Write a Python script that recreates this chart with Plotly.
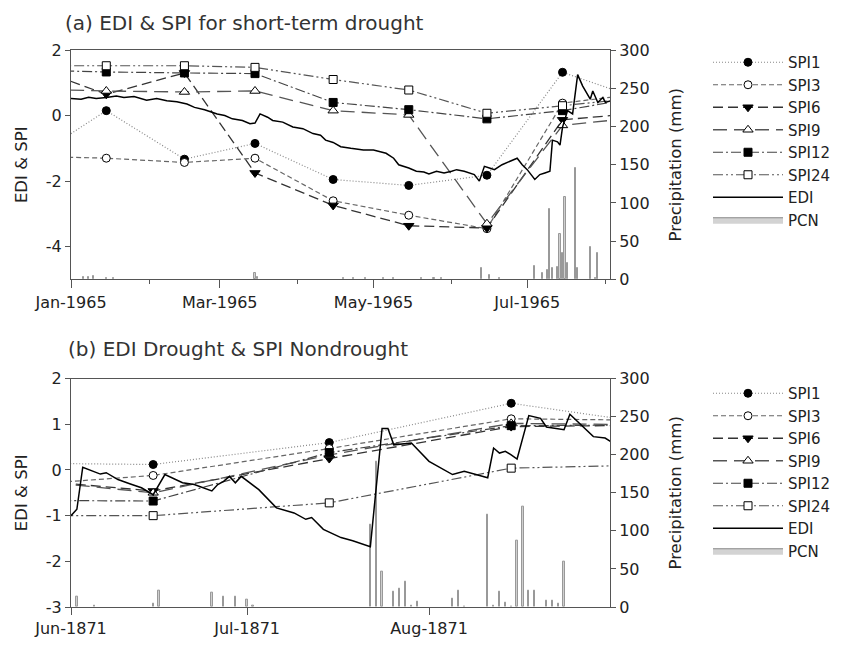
import pandas as pd
import plotly.graph_objects as go

# ---------------- Panel (a) data ----------------
spi_dates_a = ["1964-12-15", "1965-01-15", "1965-02-15", "1965-03-15", "1965-04-15",
               "1965-05-15", "1965-06-15", "1965-07-15", "1965-08-15"]
spi1_a = [-1.40, 0.15, -1.33, -0.85, -1.95, -2.13, -1.82, 1.32, 0.50]
spi3_a = [-1.24, -1.30, -1.43, -1.30, -2.60, -3.04, -3.45, 0.38, 0.67]
spi6_a = [1.52, 0.65, 1.30, -1.75, -2.74, -3.36, -3.43, -0.13, 0.08]
spi9_a = [0.81, 0.75, 0.72, 0.75, 0.15, 0.02, -3.30, -0.30, -0.05]
spi12_a = [1.39, 1.33, 1.30, 1.28, 0.40, 0.18, -0.10, 0.15, 0.56]
spi24_a = [1.52, 1.52, 1.52, 1.47, 1.10, 0.78, 0.07, 0.30, 0.55]

edi_day_a = [0, 4, 7, 10, 14, 18, 21, 25, 30, 34, 38, 42, 46, 49, 53, 58, 61, 64, 68, 71,
             73, 75, 78, 80, 84, 88, 92, 96, 99, 101, 104, 107, 111, 116, 120, 123, 125, 128,
             130, 134, 137, 140, 142, 145, 148, 151, 153, 156, 158, 160, 162, 164, 166, 168,
             171, 174, 177, 179, 181, 184, 186, 188, 190, 191, 193, 194, 195, 197, 199, 201,
             203, 206, 207, 209, 211, 212, 214]
edi_a = [0.52, 0.50, 0.56, 0.52, 0.55, 0.60, 0.55, 0.58, 0.47, 0.52, 0.45, 0.42, 0.35, 0.25,
         0.18, 0.05, 0.00, -0.10, -0.15, -0.25, -0.23, 0.05, -0.05, -0.15, -0.20, -0.35, -0.40,
         -0.55, -0.60, -0.75, -0.82, -0.95, -1.00, -1.05, -1.05, -1.10, -1.15, -1.30, -1.50,
         -1.60, -1.70, -1.72, -1.78, -1.70, -1.75, -1.70, -1.65, -1.70, -1.75, -1.80, -2.00,
         -1.55, -1.60, -1.65, -1.50, -1.40, -1.30, -1.50, -1.65, -1.95, -1.80, -1.75, -1.70,
         -0.75, -0.80, -0.90, -0.35, 0.15, 0.05, 1.25, 0.90, 0.50, 0.75, 0.40, 0.55, 0.40, 0.45]

pcn_day_a = [5, 7, 9, 14, 17, 73, 74, 108, 112, 117, 124, 128, 139, 144, 147, 163, 166, 170,
             184, 187, 189, 190, 191, 193, 194, 195, 196, 197, 200, 201, 206, 208, 209]
pcn_a = [3, 3, 4, 2, 2, 9, 3, 2, 2, 2, 2, 2, 2, 2, 2, 15, 6, 2,
         18, 9, 13, 92, 15, 16, 60, 34, 108, 22, 146, 15, 42, 2, 34]

edi_ticks_a = [-4, -2, 0, 2]
edi_ticktext_a = ["-4", "-2", "0", "2"]

# ---------------- Panel (b) data ----------------
spi_dates_b = ["1871-05-15", "1871-06-15", "1871-07-15", "1871-08-15", "1871-09-15"]
spi1_b = [0.16, 0.12, 0.60, 1.46, 0.89]
spi3_b = [-0.41, -0.12, 0.47, 1.12, 1.08]
spi6_b = [-0.11, -0.46, 0.25, 0.95, 0.99]
spi9_b = [-0.10, -0.50, 0.33, 1.02, 0.98]
spi12_b = [-0.66, -0.68, 0.38, 0.97, 0.99]
spi24_b = [-1.00, -1.00, -0.72, 0.04, 0.13]

edi_day_b = [0, 1, 2, 4, 5, 6, 8, 10, 12, 14, 15, 16, 19, 21, 24, 25, 26, 27, 28, 29, 32, 35,
             38, 40, 41, 43, 46, 48, 51, 53, 54, 55, 58, 61, 65, 67, 71, 72, 73, 74, 75, 76,
             78, 80, 81, 84, 85, 89, 91, 92]
edi_b = [-1.00, -0.86, 0.06, -0.03, -0.09, -0.06, -0.21, -0.30, -0.39, -0.54, -0.32, -0.10,
         -0.28, -0.32, -0.46, -0.32, -0.25, -0.14, -0.28, -0.14, -0.43, -0.83, -0.94, -1.08,
         -1.04, -1.30, -1.48, -1.55, -1.68, 0.91, 0.91, 0.55, 0.59, 0.19, -0.10, -0.03, -0.17,
         0.48, 0.37, 0.41, 0.33, 0.24, 1.19, 1.13, 0.94, 0.88, 1.22, 0.73, 0.70, 0.62]

pcn_day_b = [1, 4, 14, 15, 24, 26, 28, 30, 31, 51, 52, 53, 55, 56, 57, 58, 59, 65, 66, 67,
             71, 72, 73, 74, 75, 76, 77, 78, 79, 81, 82, 83, 84]
pcn_b = [14, 2, 5, 21, 19, 14, 13, 10, 2, 108, 191, 46, 20, 24, 33, 2, 7, 11, 21, 1,
         121, 2, 20, 6, 1, 87, 132, 22, 22, 9, 8, 4, 60]

edi_ticks_b = [-3, -2, -1, 0, 1, 2]
edi_ticktext_b = ["-3", "-2", "-1", "0", "1", "2"]

names = ["SPI1", "SPI3", "SPI6", "SPI9", "SPI12", "SPI24"]

FONT = "DejaVu Sans, Liberation Sans, Arial, sans-serif"
TXT = "#222222"
AX = "#555555"

styles = {
    "SPI1": dict(dash="1px,2px", color="#888888", width=1.2, symbol="circle", fill="black"),
    "SPI3": dict(dash="5px,3px", color="#666666", width=1.2, symbol="circle", fill="white"),
    "SPI6": dict(dash="10px,5px", color="#333333", width=1.3, symbol="triangle-down", fill="black"),
    "SPI9": dict(dash="14px,7px", color="#555555", width=1.3, symbol="triangle-up", fill="white"),
    "SPI12": dict(dash="10px,3px,2px,3px", color="#444444", width=1.2, symbol="square", fill="black"),
    "SPI24": dict(dash="10px,3px,2px,3px,2px,3px", color="#555555", width=1.2, symbol="square", fill="white"),
}

fig = go.Figure()


def add_panel(xa, ypr, yedi, legend, spi_dates, spis, edi_base, edi_day, edi_vals,
              pcn_day, pcn_vals, barw):
    base = pd.Timestamp(edi_base)
    fig.add_trace(go.Bar(
        x=[base + pd.Timedelta(days=d) for d in pcn_day], y=pcn_vals,
        width=barw * 86400000, name="PCN", xaxis=xa, yaxis=ypr, legend=legend,
        marker=dict(color="#cfcfcf", line=dict(color="#999999", width=1)),
        showlegend=False))
    for i, (nm, vals) in enumerate(zip(names, spis)):
        s = styles[nm]
        fig.add_trace(go.Scatter(
            x=pd.to_datetime(spi_dates), y=vals, name=nm, mode="lines+markers",
            xaxis=xa, yaxis=yedi, legend=legend, legendrank=i + 1,
            line=dict(color=s["color"], width=s["width"], dash=s["dash"]),
            marker=dict(symbol=s["symbol"], size=8 if "triangle" not in s["symbol"] else 9,
                        color=s["fill"], line=dict(color="black", width=1))))
    fig.add_trace(go.Scatter(
        x=[base + pd.Timedelta(days=d) for d in edi_day], y=edi_vals, name="EDI",
        mode="lines", xaxis=xa, yaxis=yedi, legend=legend, legendrank=7,
        line=dict(color="black", width=1.5)))
    # legend entry for the precipitation bars
    fig.add_trace(go.Scatter(
        x=[None], y=[None], name="PCN", mode="lines", fill="toself",
        fillcolor="#d3d3d3", line=dict(color="#888888", width=1),
        xaxis=xa, yaxis=ypr, legend=legend, legendrank=8))


add_panel("x", "y", "y2", "legend", spi_dates_a,
          [spi1_a, spi3_a, spi6_a, spi9_a, spi12_a, spi24_a],
          "1965-01-01", edi_day_a, edi_a, pcn_day_a, pcn_a, 0.45)
add_panel("x2", "y3", "y4", "legend2", spi_dates_b,
          [spi1_b, spi3_b, spi6_b, spi9_b, spi12_b, spi24_b],
          "1871-06-01", edi_day_b, edi_b, pcn_day_b, pcn_b, 0.22)

tickfont = dict(family=FONT, size=16, color=TXT)
titlefont = dict(family=FONT, size=16.5, color=TXT)

common_x = dict(type="date", showline=True, mirror=True, linecolor=AX, linewidth=1,
                ticks="outside", tickcolor=AX, tickformat="%b-%Y", tickfont=tickfont,
                showgrid=False, zeroline=False)
common_pr = dict(side="right", range=[0, 300], dtick=50, showline=True, linecolor=AX,
                 linewidth=1, ticks="outside", ticklen=5, tickcolor=AX, tickfont=tickfont,
                 showgrid=False, zeroline=False,
                 title=dict(text="Precipitation (mm)", font=titlefont, standoff=20))
common_edi = dict(side="left", showline=True, linecolor=AX, linewidth=1, ticks="outside",
                  ticklen=5, tickcolor=AX, tickfont=tickfont, showgrid=False, zeroline=False,
                  title=dict(text="EDI &amp; SPI", font=titlefont, standoff=14))

W, H = 839, 642  # page body adds an 8px offset
legend_common = dict(font=dict(family=FONT, size=15, color=TXT), itemwidth=70,
                     xref="container", yref="container", xanchor="left", yanchor="top",
                     bgcolor="rgba(0,0,0,0)", tracegroupgap=0, traceorder="normal")

fig.update_layout(
    width=W, height=H,
    paper_bgcolor="white", plot_bgcolor="white",
    margin=dict(l=63, r=237, t=42, b=39),
    font=dict(family=FONT, color=TXT),
    barmode="overlay", bargap=0,
    xaxis=dict(common_x, domain=[0, 1], anchor="y",
               range=["1965-01-01", "1965-08-02 20:00"], tick0="1965-01-01", dtick="M2",
               ticklen=8, minor=dict(dtick="M1", tick0="1965-01-01", ticks="outside",
                                     ticklen=4, tickcolor=AX)),
    xaxis2=dict(common_x, domain=[0, 1], anchor="y3",
                range=["1871-06-01", "1871-08-31 20:00"], tick0="1871-06-01", dtick="M1",
                ticklen=7),
    yaxis=dict(common_pr, domain=[0.588, 1.0], anchor="x"),
    yaxis2=dict(common_edi, overlaying="y", anchor="x", range=[-5, 2],
                tickvals=edi_ticks_a, ticktext=edi_ticktext_a),
    yaxis3=dict(common_pr, domain=[0.0, 0.41], anchor="x2"),
    yaxis4=dict(common_edi, overlaying="y3", anchor="x2", range=[-3, 2],
                tickvals=edi_ticks_b, ticktext=edi_ticktext_b),
    legend=dict(legend_common, x=700 / W, y=1 - 38 / H),
    legend2=dict(legend_common, x=700 / W, y=1 - 369 / H),
    annotations=[
        dict(text="(a) EDI &amp; SPI for short-term drought", xref="paper", yref="paper",
             x=-8 / 539, y=(611 - 9) / 561, xanchor="left", yanchor="top",
             showarrow=False, font=dict(family=FONT, size=20, color="#333333")),
        dict(text="(b) EDI Drought &amp; SPI Nondrought", xref="paper", yref="paper",
             x=-5 / 539, y=(611 - 351) / 561, xanchor="left", yanchor="middle",
             showarrow=False, font=dict(family=FONT, size=20, color="#333333")),
    ],
)

fig.write_html("out.html")
